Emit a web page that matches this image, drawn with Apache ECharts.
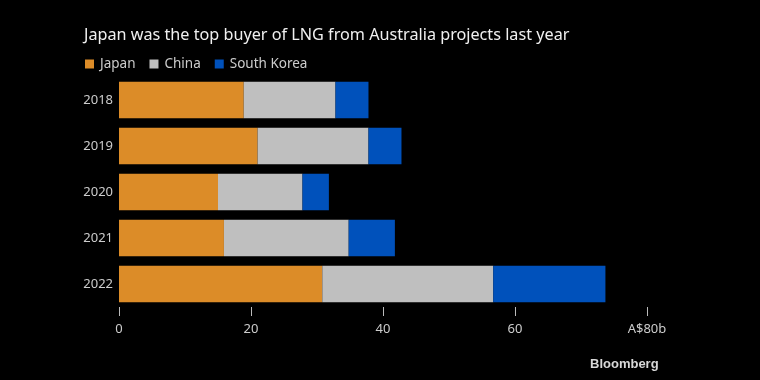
<!DOCTYPE html>
<html><head><meta charset="utf-8">
<script src="https://cdn.jsdelivr.net/npm/echarts@6/dist/echarts.min.js"></script>
<style>html,body{margin:0;padding:0;background:#000;}#c{width:760px;height:380px;}</style>
</head><body><div id="c"></div>
<script>
var years = ["2018", "2019", "2020", "2021", "2022"];
var japan = [18.9, 21.0, 15.0, 15.9, 30.8];
var china = [13.9, 16.8, 12.8, 18.9, 25.9];
var southKorea = [5.0, 5.0, 4.0, 7.0, 17.0];
var xTicks = [0, 20, 40, 60, 80];
var tickLabels = {0: "0", 20: "20", 40: "40", 60: "60", 80: "A$80b"};

var font = "Noto Sans";
var chart = echarts.init(document.getElementById('c'), null, {renderer: 'canvas'});
chart.setOption({
  backgroundColor: '#000',
  animation: false,
  title: {
    text: 'Japan was the top buyer of LNG from Australia projects last year',
    left: 79, top: 22,
    textStyle: {color: '#f0f0f0', fontSize: 16.2, fontWeight: 'normal', fontFamily: font}
  },
  legend: {
    left: 80, top: 52, icon: 'rect', itemWidth: 9, itemHeight: 9, itemGap: 14,
    textStyle: {color: '#cccccc', fontSize: 13.5, fontFamily: font, padding: [0,0,0,1]},
    data: ['Japan', 'China', 'South Korea']
  },
  grid: {left: 119, right: 113, top: 77, bottom: 73, containLabel: false},
  xAxis: {
    type: 'value', min: 0, max: 80, interval: 20,
    axisLine: {show: false},
    axisTick: {show: true, length: 9, lineStyle: {color: '#bbbbbb', width: 1}},
    splitLine: {show: false},
    axisLabel: {color: '#cccccc', fontSize: 13, fontFamily: font, margin: 16,
      formatter: function (v) { return tickLabels[v] !== undefined ? tickLabels[v] : String(v); }}
  },
  yAxis: {
    type: 'category', data: years, inverse: true,
    axisLine: {show: false}, axisTick: {show: false},
    axisLabel: {color: '#cccccc', fontSize: 13, fontFamily: font, margin: 6}
  },
  series: [
    {name: 'Japan', type: 'bar', stack: 't', data: japan, barCategoryGap: '21%', itemStyle: {color: '#dc8c28'}},
    {name: 'China', type: 'bar', stack: 't', data: china, itemStyle: {color: '#bfbfbf'}},
    {name: 'South Korea', type: 'bar', stack: 't', data: southKorea, itemStyle: {color: '#0051bb'}}
  ],
  graphic: [{
    type: 'text', left: 590, top: 358,
    style: {text: 'Bloomberg', fill: '#d8d8d8', font: 'bold 13px "Liberation Sans", Arial, sans-serif'}
  }]
});
</script></body></html>
